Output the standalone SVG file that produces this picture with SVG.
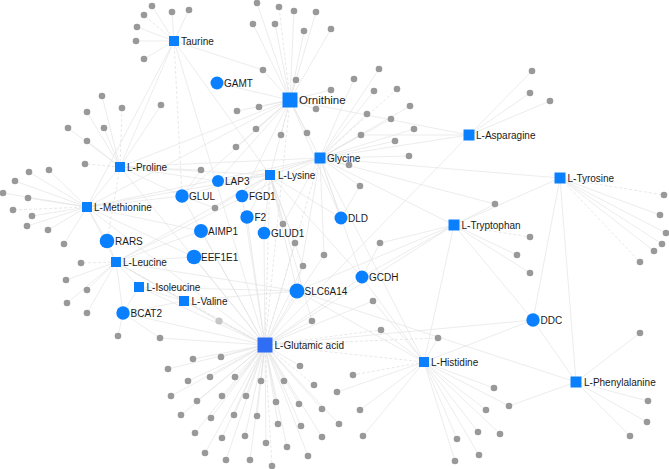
<svg xmlns="http://www.w3.org/2000/svg" width="669" height="469" viewBox="0 0 669 469">
<style>
.e{stroke:#e4e4e4;stroke-width:0.7;fill:none}
.d{stroke:#dedede;stroke-width:0.7;fill:none;stroke-dasharray:3 2}
.g{fill:#999999}
.gl{fill:#c6c6c6}
.sq{fill:#0a80ff}
.sq2{fill:#2f6df5}
.gc{fill:#0a80ff}
text{font-family:"Liberation Sans",Arial,sans-serif;font-size:10px;fill:#1a1a1a}
</style>
<rect width="669" height="469" fill="#ffffff"/>
<g id="connectors">
<line class="e" x1="174" y1="41" x2="120" y2="167"/>
<line class="d" x1="174" y1="41" x2="182" y2="196"/>
<line class="e" x1="174" y1="41" x2="270" y2="175"/>
<line class="e" x1="174" y1="41" x2="265" y2="345"/>
<line class="e" x1="174" y1="41" x2="87" y2="207"/>
<line class="e" x1="174" y1="41" x2="263" y2="70"/>
<line class="e" x1="290" y1="100" x2="217" y2="83"/>
<line class="e" x1="290" y1="100" x2="320" y2="158"/>
<line class="e" x1="290" y1="100" x2="270" y2="175"/>
<line class="e" x1="290" y1="100" x2="120" y2="167"/>
<line class="d" x1="290" y1="100" x2="265" y2="345"/>
<line class="e" x1="290" y1="100" x2="469" y2="135"/>
<line class="e" x1="290" y1="100" x2="182" y2="196"/>
<line class="e" x1="290" y1="100" x2="87" y2="207"/>
<line class="e" x1="290" y1="100" x2="242" y2="196"/>
<line class="e" x1="290" y1="100" x2="218" y2="181"/>
<line class="e" x1="290" y1="100" x2="341" y2="218"/>
<line class="e" x1="320" y1="158" x2="469" y2="135"/>
<line class="e" x1="320" y1="158" x2="270" y2="175"/>
<line class="e" x1="320" y1="158" x2="454" y2="225"/>
<line class="e" x1="320" y1="158" x2="560" y2="178"/>
<line class="d" x1="320" y1="158" x2="265" y2="345"/>
<line class="e" x1="320" y1="158" x2="182" y2="196"/>
<line class="e" x1="320" y1="158" x2="120" y2="167"/>
<line class="e" x1="320" y1="158" x2="87" y2="207"/>
<line class="e" x1="320" y1="158" x2="341" y2="218"/>
<line class="e" x1="320" y1="158" x2="362" y2="277"/>
<line class="e" x1="320" y1="158" x2="297" y2="291"/>
<line class="e" x1="320" y1="158" x2="116" y2="262"/>
<line class="e" x1="320" y1="158" x2="424" y2="362"/>
<line class="e" x1="120" y1="167" x2="87" y2="207"/>
<line class="e" x1="120" y1="167" x2="182" y2="196"/>
<line class="e" x1="120" y1="167" x2="270" y2="175"/>
<line class="d" x1="120" y1="167" x2="107" y2="241"/>
<line class="e" x1="120" y1="167" x2="265" y2="345"/>
<line class="e" x1="120" y1="167" x2="218" y2="181"/>
<line class="e" x1="87" y1="207" x2="107" y2="241"/>
<line class="e" x1="87" y1="207" x2="116" y2="262"/>
<line class="e" x1="87" y1="207" x2="182" y2="196"/>
<line class="e" x1="87" y1="207" x2="201" y2="231"/>
<line class="e" x1="87" y1="207" x2="270" y2="175"/>
<line class="e" x1="87" y1="207" x2="265" y2="345"/>
<line class="e" x1="87" y1="207" x2="194" y2="257"/>
<line class="e" x1="116" y1="262" x2="107" y2="241"/>
<line class="e" x1="116" y1="262" x2="139" y2="287"/>
<line class="e" x1="116" y1="262" x2="184" y2="301"/>
<line class="e" x1="116" y1="262" x2="123" y2="313"/>
<line class="e" x1="116" y1="262" x2="194" y2="257"/>
<line class="e" x1="116" y1="262" x2="201" y2="231"/>
<line class="d" x1="116" y1="262" x2="265" y2="345"/>
<line class="e" x1="116" y1="262" x2="297" y2="291"/>
<line class="e" x1="116" y1="262" x2="270" y2="175"/>
<line class="e" x1="139" y1="287" x2="123" y2="313"/>
<line class="e" x1="139" y1="287" x2="184" y2="301"/>
<line class="e" x1="139" y1="287" x2="265" y2="345"/>
<line class="e" x1="139" y1="287" x2="297" y2="291"/>
<line class="e" x1="184" y1="301" x2="123" y2="313"/>
<line class="e" x1="184" y1="301" x2="265" y2="345"/>
<line class="e" x1="184" y1="301" x2="297" y2="291"/>
<line class="e" x1="265" y1="345" x2="182" y2="196"/>
<line class="e" x1="265" y1="345" x2="264" y2="233"/>
<line class="e" x1="265" y1="345" x2="247" y2="217"/>
<line class="d" x1="265" y1="345" x2="424" y2="362"/>
<line class="e" x1="265" y1="345" x2="533" y2="320"/>
<line class="e" x1="265" y1="345" x2="297" y2="291"/>
<line class="e" x1="265" y1="345" x2="362" y2="277"/>
<line class="d" x1="265" y1="345" x2="270" y2="175"/>
<line class="e" x1="265" y1="345" x2="194" y2="257"/>
<line class="e" x1="265" y1="345" x2="201" y2="231"/>
<line class="e" x1="265" y1="345" x2="242" y2="196"/>
<line class="e" x1="265" y1="345" x2="123" y2="313"/>
<line class="e" x1="265" y1="345" x2="454" y2="225"/>
<line class="e" x1="265" y1="345" x2="469" y2="135"/>
<line class="e" x1="270" y1="175" x2="218" y2="181"/>
<line class="e" x1="270" y1="175" x2="264" y2="233"/>
<line class="e" x1="270" y1="175" x2="247" y2="217"/>
<line class="e" x1="270" y1="175" x2="297" y2="291"/>
<line class="e" x1="270" y1="175" x2="341" y2="218"/>
<line class="e" x1="270" y1="175" x2="362" y2="277"/>
<line class="e" x1="270" y1="175" x2="242" y2="196"/>
<line class="e" x1="454" y1="225" x2="533" y2="320"/>
<line class="e" x1="454" y1="225" x2="560" y2="178"/>
<line class="e" x1="454" y1="225" x2="424" y2="362"/>
<line class="e" x1="454" y1="225" x2="297" y2="291"/>
<line class="e" x1="454" y1="225" x2="362" y2="277"/>
<line class="e" x1="560" y1="178" x2="533" y2="320"/>
<line class="e" x1="560" y1="178" x2="576" y2="382"/>
<line class="e" x1="424" y1="362" x2="533" y2="320"/>
<line class="e" x1="424" y1="362" x2="297" y2="291"/>
<line class="e" x1="424" y1="362" x2="362" y2="277"/>
<line class="e" x1="576" y1="382" x2="533" y2="320"/>
<line class="e" x1="576" y1="382" x2="297" y2="291"/>
<line class="e" x1="174" y1="41" x2="152" y2="6"/>
<line class="d" x1="174" y1="41" x2="144" y2="15"/>
<line class="e" x1="174" y1="41" x2="137" y2="27"/>
<line class="e" x1="174" y1="41" x2="136" y2="41"/>
<line class="e" x1="174" y1="41" x2="144" y2="59"/>
<line class="e" x1="174" y1="41" x2="172" y2="12"/>
<line class="e" x1="174" y1="41" x2="189" y2="10"/>
<line class="e" x1="290" y1="100" x2="263" y2="70"/>
<line class="e" x1="290" y1="100" x2="257" y2="3"/>
<line class="d" x1="290" y1="100" x2="279" y2="7"/>
<line class="e" x1="290" y1="100" x2="294" y2="11"/>
<line class="e" x1="290" y1="100" x2="316" y2="12"/>
<line class="e" x1="290" y1="100" x2="253" y2="24"/>
<line class="e" x1="290" y1="100" x2="275" y2="24"/>
<line class="e" x1="290" y1="100" x2="304" y2="31"/>
<line class="e" x1="290" y1="100" x2="331" y2="29"/>
<line class="e" x1="290" y1="100" x2="296" y2="80"/>
<line class="e" x1="290" y1="100" x2="331" y2="90"/>
<line class="e" x1="290" y1="100" x2="237" y2="111"/>
<line class="e" x1="290" y1="100" x2="259" y2="107"/>
<line class="e" x1="290" y1="100" x2="316" y2="109"/>
<line class="e" x1="290" y1="100" x2="256" y2="129"/>
<line class="d" x1="290" y1="100" x2="281" y2="135"/>
<line class="e" x1="290" y1="100" x2="307" y2="133"/>
<line class="e" x1="290" y1="100" x2="236" y2="147"/>
<line class="e" x1="320" y1="158" x2="379" y2="69"/>
<line class="e" x1="320" y1="158" x2="354" y2="79"/>
<line class="e" x1="320" y1="158" x2="374" y2="91"/>
<line class="d" x1="320" y1="158" x2="397" y2="89"/>
<line class="e" x1="320" y1="158" x2="367" y2="114"/>
<line class="e" x1="320" y1="158" x2="410" y2="106"/>
<line class="e" x1="320" y1="158" x2="391" y2="119"/>
<line class="e" x1="320" y1="158" x2="414" y2="129"/>
<line class="e" x1="320" y1="158" x2="395" y2="141"/>
<line class="e" x1="320" y1="158" x2="409" y2="156"/>
<line class="e" x1="320" y1="158" x2="349" y2="165"/>
<line class="e" x1="320" y1="158" x2="360" y2="186"/>
<line class="e" x1="341" y1="218" x2="360" y2="186"/>
<line class="e" x1="320" y1="158" x2="361" y2="135"/>
<line class="e" x1="320" y1="158" x2="495" y2="204"/>
<line class="e" x1="469" y1="135" x2="361" y2="135"/>
<line class="e" x1="469" y1="135" x2="532" y2="71"/>
<line class="e" x1="469" y1="135" x2="530" y2="93"/>
<line class="e" x1="469" y1="135" x2="550" y2="101"/>
<line class="e" x1="120" y1="167" x2="102" y2="96"/>
<line class="e" x1="120" y1="167" x2="87" y2="112"/>
<line class="d" x1="120" y1="167" x2="122" y2="108"/>
<line class="e" x1="120" y1="167" x2="68" y2="128"/>
<line class="e" x1="120" y1="167" x2="104" y2="128"/>
<line class="e" x1="120" y1="167" x2="87" y2="141"/>
<line class="e" x1="120" y1="167" x2="161" y2="105"/>
<line class="d" x1="120" y1="167" x2="85" y2="164"/>
<line class="e" x1="120" y1="167" x2="201" y2="170"/>
<line class="e" x1="87" y1="207" x2="49" y2="170"/>
<line class="e" x1="87" y1="207" x2="29" y2="172"/>
<line class="e" x1="87" y1="207" x2="15" y2="181"/>
<line class="e" x1="87" y1="207" x2="3" y2="193"/>
<line class="e" x1="87" y1="207" x2="28" y2="198"/>
<line class="d" x1="87" y1="207" x2="13" y2="210"/>
<line class="e" x1="87" y1="207" x2="32" y2="216"/>
<line class="e" x1="87" y1="207" x2="27" y2="226"/>
<line class="e" x1="87" y1="207" x2="48" y2="230"/>
<line class="e" x1="87" y1="207" x2="64" y2="244"/>
<line class="d" x1="116" y1="262" x2="81" y2="263"/>
<line class="e" x1="116" y1="262" x2="66" y2="280"/>
<line class="e" x1="116" y1="262" x2="87" y2="290"/>
<line class="e" x1="116" y1="262" x2="67" y2="303"/>
<line class="e" x1="116" y1="262" x2="87" y2="313"/>
<line class="e" x1="116" y1="262" x2="219" y2="321"/>
<line class="e" x1="123" y1="313" x2="118" y2="336"/>
<line class="e" x1="123" y1="313" x2="160" y2="338"/>
<line class="e" x1="265" y1="345" x2="160" y2="338"/>
<line class="e" x1="182" y1="196" x2="201" y2="170"/>
<line class="e" x1="182" y1="196" x2="215" y2="208"/>
<line class="e" x1="270" y1="175" x2="215" y2="208"/>
<line class="e" x1="270" y1="175" x2="283" y2="224"/>
<line class="e" x1="320" y1="158" x2="283" y2="224"/>
<line class="e" x1="270" y1="175" x2="295" y2="243"/>
<line class="e" x1="265" y1="345" x2="295" y2="243"/>
<line class="e" x1="320" y1="158" x2="324" y2="255"/>
<line class="e" x1="265" y1="345" x2="324" y2="255"/>
<line class="e" x1="270" y1="175" x2="303" y2="266"/>
<line class="e" x1="265" y1="345" x2="303" y2="266"/>
<line class="e" x1="454" y1="225" x2="380" y2="243"/>
<line class="e" x1="362" y1="277" x2="380" y2="243"/>
<line class="e" x1="424" y1="362" x2="373" y2="301"/>
<line class="e" x1="265" y1="345" x2="373" y2="301"/>
<line class="e" x1="454" y1="225" x2="495" y2="204"/>
<line class="e" x1="265" y1="345" x2="312" y2="321"/>
<line class="e" x1="270" y1="175" x2="312" y2="321"/>
<line class="e" x1="265" y1="345" x2="219" y2="321"/>
<line class="d" x1="454" y1="225" x2="530" y2="237"/>
<line class="e" x1="454" y1="225" x2="517" y2="255"/>
<line class="e" x1="454" y1="225" x2="530" y2="273"/>
<line class="d" x1="560" y1="178" x2="664" y2="195"/>
<line class="e" x1="560" y1="178" x2="660" y2="215"/>
<line class="e" x1="560" y1="178" x2="666" y2="233"/>
<line class="e" x1="560" y1="178" x2="662" y2="244"/>
<line class="e" x1="560" y1="178" x2="654" y2="251"/>
<line class="d" x1="560" y1="178" x2="640" y2="262"/>
<line class="e" x1="576" y1="382" x2="640" y2="333"/>
<line class="e" x1="576" y1="382" x2="648" y2="401"/>
<line class="e" x1="576" y1="382" x2="647" y2="422"/>
<line class="e" x1="576" y1="382" x2="630" y2="436"/>
<line class="e" x1="576" y1="382" x2="509" y2="406"/>
<line class="e" x1="424" y1="362" x2="509" y2="406"/>
<line class="e" x1="265" y1="345" x2="168" y2="369"/>
<line class="e" x1="265" y1="345" x2="193" y2="359"/>
<line class="e" x1="265" y1="345" x2="221" y2="357"/>
<line class="e" x1="265" y1="345" x2="188" y2="381"/>
<line class="e" x1="265" y1="345" x2="210" y2="377"/>
<line class="e" x1="265" y1="345" x2="235" y2="377"/>
<line class="e" x1="265" y1="345" x2="261" y2="381"/>
<line class="e" x1="265" y1="345" x2="284" y2="381"/>
<line class="d" x1="265" y1="345" x2="314" y2="385"/>
<line class="e" x1="265" y1="345" x2="171" y2="396"/>
<line class="e" x1="265" y1="345" x2="197" y2="401"/>
<line class="e" x1="265" y1="345" x2="222" y2="396"/>
<line class="e" x1="265" y1="345" x2="246" y2="396"/>
<line class="e" x1="265" y1="345" x2="276" y2="402"/>
<line class="e" x1="265" y1="345" x2="299" y2="404"/>
<line class="e" x1="265" y1="345" x2="181" y2="415"/>
<line class="e" x1="265" y1="345" x2="211" y2="418"/>
<line class="e" x1="265" y1="345" x2="234" y2="415"/>
<line class="e" x1="265" y1="345" x2="257" y2="416"/>
<line class="e" x1="265" y1="345" x2="278" y2="424"/>
<line class="e" x1="265" y1="345" x2="301" y2="426"/>
<line class="e" x1="265" y1="345" x2="322" y2="409"/>
<line class="e" x1="265" y1="345" x2="195" y2="433"/>
<line class="e" x1="265" y1="345" x2="222" y2="438"/>
<line class="e" x1="265" y1="345" x2="245" y2="436"/>
<line class="e" x1="265" y1="345" x2="266" y2="443"/>
<line class="e" x1="265" y1="345" x2="287" y2="447"/>
<line class="e" x1="265" y1="345" x2="322" y2="437"/>
<line class="e" x1="265" y1="345" x2="205" y2="453"/>
<line class="e" x1="265" y1="345" x2="226" y2="460"/>
<line class="e" x1="265" y1="345" x2="250" y2="460"/>
<line class="d" x1="265" y1="345" x2="272" y2="466"/>
<line class="e" x1="265" y1="345" x2="308" y2="456"/>
<line class="e" x1="265" y1="345" x2="300" y2="366"/>
<line class="d" x1="265" y1="345" x2="381" y2="330"/>
<line class="e" x1="424" y1="362" x2="381" y2="330"/>
<line class="d" x1="265" y1="345" x2="438" y2="338"/>
<line class="e" x1="424" y1="362" x2="438" y2="338"/>
<line class="d" x1="424" y1="362" x2="353" y2="375"/>
<line class="e" x1="424" y1="362" x2="337" y2="392"/>
<line class="e" x1="424" y1="362" x2="360" y2="410"/>
<line class="e" x1="265" y1="345" x2="339" y2="424"/>
<line class="e" x1="424" y1="362" x2="363" y2="436"/>
<line class="e" x1="424" y1="362" x2="494" y2="388"/>
<line class="e" x1="424" y1="362" x2="486" y2="410"/>
<line class="e" x1="424" y1="362" x2="478" y2="432"/>
<line class="e" x1="424" y1="362" x2="500" y2="434"/>
<line class="e" x1="424" y1="362" x2="457" y2="439"/>
<line class="e" x1="424" y1="362" x2="479" y2="455"/>
<line class="e" x1="424" y1="362" x2="455" y2="461"/>
</g>
<g id="leaves">
<circle class="g" cx="152" cy="6" r="3.3"/><circle class="g" cx="144" cy="15" r="3.3"/><circle class="g" cx="137" cy="27" r="3.3"/><circle class="g" cx="136" cy="41" r="3.3"/><circle class="g" cx="144" cy="59" r="3.3"/><circle class="g" cx="172" cy="12" r="3.3"/><circle class="g" cx="189" cy="10" r="3.3"/>
<circle class="g" cx="263" cy="70" r="3.3"/>
<circle class="g" cx="257" cy="3" r="3.3"/><circle class="g" cx="279" cy="7" r="3.3"/><circle class="g" cx="294" cy="11" r="3.3"/><circle class="g" cx="316" cy="12" r="3.3"/><circle class="g" cx="253" cy="24" r="3.3"/><circle class="g" cx="275" cy="24" r="3.3"/><circle class="g" cx="304" cy="31" r="3.3"/><circle class="g" cx="331" cy="29" r="3.3"/><circle class="g" cx="296" cy="80" r="3.3"/><circle class="g" cx="331" cy="90" r="3.3"/><circle class="g" cx="237" cy="111" r="3.3"/><circle class="g" cx="259" cy="107" r="3.3"/><circle class="g" cx="316" cy="109" r="3.3"/><circle class="g" cx="256" cy="129" r="3.3"/><circle class="g" cx="281" cy="135" r="3.3"/><circle class="g" cx="307" cy="133" r="3.3"/><circle class="g" cx="236" cy="147" r="3.3"/>
<circle class="g" cx="379" cy="69" r="3.3"/><circle class="g" cx="354" cy="79" r="3.3"/><circle class="g" cx="374" cy="91" r="3.3"/><circle class="g" cx="397" cy="89" r="3.3"/><circle class="g" cx="367" cy="114" r="3.3"/><circle class="g" cx="410" cy="106" r="3.3"/><circle class="g" cx="391" cy="119" r="3.3"/><circle class="g" cx="414" cy="129" r="3.3"/><circle class="g" cx="395" cy="141" r="3.3"/><circle class="g" cx="409" cy="156" r="3.3"/><circle class="g" cx="349" cy="165" r="3.3"/><circle class="g" cx="360" cy="186" r="3.3"/>
<circle class="g" cx="361" cy="135" r="3.3"/><circle class="g" cx="532" cy="71" r="3.3"/><circle class="g" cx="530" cy="93" r="3.3"/><circle class="g" cx="550" cy="101" r="3.3"/>
<circle class="g" cx="102" cy="96" r="3.3"/><circle class="g" cx="87" cy="112" r="3.3"/><circle class="g" cx="122" cy="108" r="3.3"/><circle class="g" cx="68" cy="128" r="3.3"/><circle class="g" cx="104" cy="128" r="3.3"/><circle class="g" cx="87" cy="141" r="3.3"/><circle class="g" cx="161" cy="105" r="3.3"/><circle class="g" cx="85" cy="164" r="3.3"/>
<circle class="g" cx="49" cy="170" r="3.3"/><circle class="g" cx="29" cy="172" r="3.3"/><circle class="g" cx="15" cy="181" r="3.3"/><circle class="g" cx="3" cy="193" r="3.3"/><circle class="g" cx="28" cy="198" r="3.3"/><circle class="g" cx="13" cy="210" r="3.3"/><circle class="g" cx="32" cy="216" r="3.3"/><circle class="g" cx="27" cy="226" r="3.3"/><circle class="g" cx="48" cy="230" r="3.3"/><circle class="g" cx="64" cy="244" r="3.3"/>
<circle class="g" cx="81" cy="263" r="3.3"/><circle class="g" cx="66" cy="280" r="3.3"/><circle class="g" cx="87" cy="290" r="3.3"/><circle class="g" cx="67" cy="303" r="3.3"/><circle class="g" cx="87" cy="313" r="3.3"/>
<circle class="g" cx="118" cy="336" r="3.3"/><circle class="g" cx="160" cy="338" r="3.3"/>
<circle class="g" cx="201" cy="170" r="3.3"/><circle class="g" cx="215" cy="208" r="3.3"/><circle class="g" cx="283" cy="224" r="3.3"/><circle class="g" cx="295" cy="243" r="3.3"/><circle class="g" cx="324" cy="255" r="3.3"/><circle class="g" cx="303" cy="266" r="3.3"/><circle class="g" cx="380" cy="243" r="3.3"/><circle class="g" cx="373" cy="301" r="3.3"/><circle class="g" cx="495" cy="204" r="3.3"/>
<circle class="g" cx="530" cy="237" r="3.3"/><circle class="g" cx="517" cy="255" r="3.3"/><circle class="g" cx="530" cy="273" r="3.3"/>
<circle class="g" cx="664" cy="195" r="3.3"/><circle class="g" cx="660" cy="215" r="3.3"/><circle class="g" cx="666" cy="233" r="3.3"/><circle class="g" cx="662" cy="244" r="3.3"/><circle class="g" cx="654" cy="251" r="3.3"/><circle class="g" cx="640" cy="262" r="3.3"/>
<circle class="g" cx="640" cy="333" r="3.3"/><circle class="g" cx="648" cy="401" r="3.3"/><circle class="g" cx="647" cy="422" r="3.3"/><circle class="g" cx="630" cy="436" r="3.3"/><circle class="g" cx="509" cy="406" r="3.3"/>
<circle class="g" cx="168" cy="369" r="3.3"/><circle class="g" cx="193" cy="359" r="3.3"/><circle class="g" cx="221" cy="357" r="3.3"/><circle class="g" cx="188" cy="381" r="3.3"/><circle class="g" cx="210" cy="377" r="3.3"/><circle class="g" cx="235" cy="377" r="3.3"/><circle class="g" cx="261" cy="381" r="3.3"/><circle class="g" cx="284" cy="381" r="3.3"/><circle class="g" cx="314" cy="385" r="3.3"/><circle class="g" cx="171" cy="396" r="3.3"/><circle class="g" cx="197" cy="401" r="3.3"/><circle class="g" cx="222" cy="396" r="3.3"/><circle class="g" cx="246" cy="396" r="3.3"/><circle class="g" cx="276" cy="402" r="3.3"/><circle class="g" cx="299" cy="404" r="3.3"/><circle class="g" cx="181" cy="415" r="3.3"/><circle class="g" cx="211" cy="418" r="3.3"/><circle class="g" cx="234" cy="415" r="3.3"/><circle class="g" cx="257" cy="416" r="3.3"/><circle class="g" cx="278" cy="424" r="3.3"/><circle class="g" cx="301" cy="426" r="3.3"/><circle class="g" cx="322" cy="409" r="3.3"/><circle class="g" cx="195" cy="433" r="3.3"/><circle class="g" cx="222" cy="438" r="3.3"/><circle class="g" cx="245" cy="436" r="3.3"/><circle class="g" cx="266" cy="443" r="3.3"/><circle class="g" cx="287" cy="447" r="3.3"/><circle class="g" cx="322" cy="437" r="3.3"/><circle class="g" cx="205" cy="453" r="3.3"/><circle class="g" cx="226" cy="460" r="3.3"/><circle class="g" cx="250" cy="460" r="3.3"/><circle class="g" cx="272" cy="466" r="3.3"/><circle class="g" cx="308" cy="456" r="3.3"/><circle class="g" cx="300" cy="366" r="3.3"/><circle class="g" cx="312" cy="321" r="3.3"/>
<circle class="gl" cx="219" cy="321" r="3.6"/>
<circle class="g" cx="381" cy="330" r="3.3"/><circle class="g" cx="438" cy="338" r="3.3"/><circle class="g" cx="353" cy="375" r="3.3"/><circle class="g" cx="337" cy="392" r="3.3"/><circle class="g" cx="360" cy="410" r="3.3"/><circle class="g" cx="339" cy="424" r="3.3"/><circle class="g" cx="363" cy="436" r="3.3"/><circle class="g" cx="494" cy="388" r="3.3"/><circle class="g" cx="486" cy="410" r="3.3"/><circle class="g" cx="478" cy="432" r="3.3"/><circle class="g" cx="500" cy="434" r="3.3"/><circle class="g" cx="457" cy="439" r="3.3"/><circle class="g" cx="479" cy="455" r="3.3"/><circle class="g" cx="455" cy="461" r="3.3"/>
</g>
<g id="taurine"><rect class="sq" x="169" y="36" width="10" height="10"/><text x="181" y="44.5">Taurine</text></g>
<g id="ornithine"><rect class="sq" x="282.5" y="92.5" width="15" height="15"/><text x="299" y="104" style="font-size:11.5px">Ornithine</text></g>
<g id="gamt"><circle class="gc" cx="217" cy="83" r="6.5"/><text x="224" y="86.5">GAMT</text></g>
<g id="asparagine"><rect class="sq" x="463.5" y="129.5" width="11" height="11"/><text x="476" y="138.5">L-Asparagine</text></g>
<g id="glycine"><rect class="sq" x="314.5" y="152.5" width="11" height="11"/><text x="327" y="161.5">Glycine</text></g>
<g id="proline"><rect class="sq" x="115" y="162" width="10" height="10"/><text x="127" y="170.5">L-Proline</text></g>
<g id="lysine"><rect class="sq" x="265" y="170" width="10" height="10"/><text x="278" y="178.5">L-Lysine</text></g>
<g id="lap3"><circle class="gc" cx="218" cy="181" r="6"/><text x="225" y="184.5">LAP3</text></g>
<g id="glul"><circle class="gc" cx="182" cy="196" r="6.7"/><text x="189" y="199.5">GLUL</text></g>
<g id="fgd1"><circle class="gc" cx="242" cy="196" r="6.3"/><text x="249" y="199.5">FGD1</text></g>
<g id="methionine"><rect class="sq" x="82" y="202" width="10" height="10"/><text x="94" y="210.5">L-Methionine</text></g>
<g id="f2"><circle class="gc" cx="247" cy="217" r="6.7"/><text x="254.5" y="220.5">F2</text></g>
<g id="dld"><circle class="gc" cx="341" cy="218" r="6.5"/><text x="348" y="221.5">DLD</text></g>
<g id="aimp1"><circle class="gc" cx="201" cy="231" r="7"/><text x="208" y="234.5">AIMP1</text></g>
<g id="glud1"><circle class="gc" cx="264" cy="233" r="6.3"/><text x="271" y="236.5">GLUD1</text></g>
<g id="rars"><circle class="gc" cx="107" cy="241" r="7.3"/><text x="115" y="244.5">RARS</text></g>
<g id="eef1e1"><circle class="gc" cx="194" cy="257" r="7.3"/><text x="201" y="260.5">EEF1E1</text></g>
<g id="leucine"><rect class="sq" x="111" y="257" width="10" height="10"/><text x="123" y="265.5">L-Leucine</text></g>
<g id="tryptophan"><rect class="sq" x="448.5" y="219.5" width="11" height="11"/><text x="461.5" y="228.5">L-Tryptophan</text></g>
<g id="tyrosine"><rect class="sq" x="554.5" y="172.5" width="11" height="11"/><text x="567.5" y="181.5">L-Tyrosine</text></g>
<g id="gcdh"><circle class="gc" cx="362" cy="277" r="6.5"/><text x="369" y="280.5">GCDH</text></g>
<g id="isoleucine"><rect class="sq" x="134" y="282" width="10" height="10"/><text x="146.5" y="290.5">L-Isoleucine</text></g>
<g id="slc6a14"><circle class="gc" cx="297" cy="291" r="7.5"/><text x="304.5" y="294.5">SLC6A14</text></g>
<g id="valine"><rect class="sq" x="179" y="296" width="10" height="10"/><text x="191.5" y="304.5">L-Valine</text></g>
<g id="bcat2"><circle class="gc" cx="123" cy="313" r="6.7"/><text x="130.5" y="316.5">BCAT2</text></g>
<g id="ddc"><circle class="gc" cx="533" cy="320" r="6.7"/><text x="540.5" y="323.5">DDC</text></g>
<g id="glutamic"><rect class="sq2" x="257.5" y="337.5" width="15" height="15"/><text x="274.5" y="348.5">L-Glutamic acid</text></g>
<g id="histidine"><rect class="sq" x="419" y="357" width="10" height="10"/><text x="431" y="365.5">L-Histidine</text></g>
<g id="phenylalanine"><rect class="sq" x="570.5" y="376.5" width="11" height="11"/><text x="584" y="385.5">L-Phenylalanine</text></g>
</svg>
